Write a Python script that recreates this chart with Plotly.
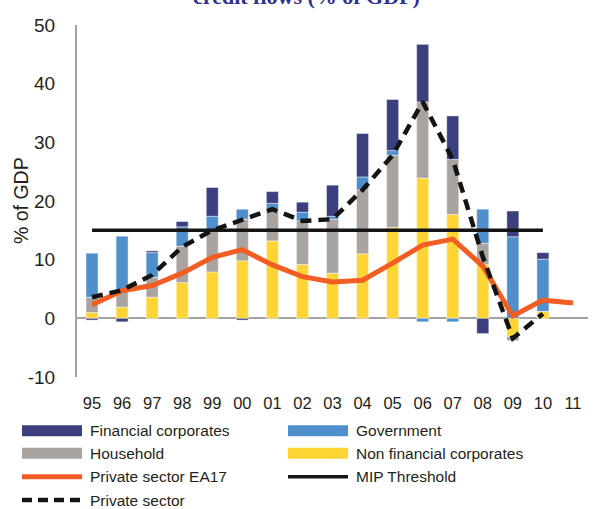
import plotly.graph_objects as go

years = ["95", "96", "97", "98", "99", "00", "01", "02", "03", "04",
         "05", "06", "07", "08", "09", "10", "11"]
non_financial = [1.0, 1.9, 3.6, 6.1, 7.9, 9.8, 13.2, 9.2, 7.7, 11.0,
                 15.5, 23.9, 17.7, 9.2, -3.1, 1.2, None]
household = [2.6, 2.9, 3.4, 6.2, 7.1, 7.1, 5.4, 7.4, 9.2, 10.9,
             12.3, 13.0, 9.4, 3.6, -0.7, 0.0, None]
government = [7.5, 9.2, 4.2, 3.3, 2.4, 1.7, 1.0, 1.5, 0.5, 2.2,
              0.8, -0.6, -0.6, 5.8, 13.9, 8.9, None]
financial = [-0.3, -0.6, 0.3, 0.9, 4.9, -0.3, 2.0, 1.7, 5.3, 7.4,
             8.7, 9.8, 7.4, -2.6, 4.4, 1.1, None]
private_ea17 = [2.3, 4.7, 5.6, 7.7, 10.4, 11.7, 9.1, 7.1, 6.2, 6.5,
                9.4, 12.5, 13.5, 8.9, 0.4, 3.1, 2.6]
mip_threshold = [15, 15, 15, 15, 15, 15, 15, 15, 15, 15,
                 15, 15, 15, 15, 15, 15, None]
private_sector = [3.6, 4.8, 7.4, 12.2, 15.0, 16.9, 18.6, 16.6, 16.9, 21.9,
                  27.8, 36.9, 27.1, 10.5, -3.4, 0.8, None]
y_tick_vals = [-10, 0, 10, 20, 30, 40, 50]
y_tick_text = ["-10", "0", "10", "20", "30", "40", "50"]

C_FIN = "#3b3f7d"
C_GOV = "#4e8fcc"
C_HH = "#aaa4a0"
C_NFC = "#ffd535"
C_EA = "#f15d22"
C_BLACK = "#141414"
TXT = "#231f20"
SANS = "Liberation Sans, Arial, sans-serif"

W, H = 594, 509
ML, MR, MT, MB = 77, 6, 25, 132
PW, PH = W - ML - MR, H - MT - MB

def px(x):
    return (x - ML) / PW

def py(y):
    return (H - MB - y) / PH

fig = go.Figure()
edge = dict(width=0.8, color="rgba(255,255,255,0.55)")
fig.add_trace(go.Bar(x=years, y=non_financial, name="Non financial corporates",
                     marker=dict(color=C_NFC, line=edge)))
fig.add_trace(go.Bar(x=years, y=household, name="Household",
                     marker=dict(color=C_HH, line=edge)))
fig.add_trace(go.Bar(x=years, y=government, name="Government",
                     marker=dict(color=C_GOV, line=edge)))
fig.add_trace(go.Bar(x=years, y=financial, name="Financial corporates",
                     marker=dict(color=C_FIN, line=edge)))
fig.add_trace(go.Scatter(x=years, y=mip_threshold, name="MIP Threshold", mode="lines",
                         line=dict(color=C_BLACK, width=3.5)))
fig.add_trace(go.Scatter(x=years, y=private_ea17, name="Private sector EA17", mode="lines",
                         line=dict(color=C_EA, width=5)))
fig.add_trace(go.Scatter(x=years, y=private_sector, name="Private sector", mode="lines",
                         line=dict(color=C_BLACK, width=4.5, dash="11px,7px")))

# manual legend
legend_items = [
    ("Financial corporates", "bar", C_FIN, 0, 430.7),
    ("Government", "bar", C_GOV, 1, 430.7),
    ("Household", "bar", C_HH, 0, 453.3),
    ("Non financial corporates", "bar", C_NFC, 1, 453.3),
    ("Private sector EA17", "line", C_EA, 0, 476.7),
    ("MIP Threshold", "line", C_BLACK, 1, 476.7),
    ("Private sector", "dash", C_BLACK, 0, 500.0),
]
col_x = [(22, 82, 88), (288, 348, 354)]
shapes = []
annotations = []
for label, kind, color, col, yc in legend_items:
    x0, x1, xt = col_x[col]
    if kind == "bar":
        shapes.append(dict(type="rect", xref="paper", yref="paper",
                           x0=px(x0), x1=px(x1), y0=py(yc + 5.5), y1=py(yc - 5.5),
                           fillcolor=color, line=dict(width=0)))
    else:
        width = 5 if color == C_EA else (3.5 if kind == "line" else 4.5)
        dash = "10px,6px" if kind == "dash" else "solid"
        shapes.append(dict(type="line", xref="paper", yref="paper",
                           x0=px(x0), x1=px(x1), y0=py(yc), y1=py(yc),
                           line=dict(color=color, width=width, dash=dash)))
    annotations.append(dict(text=label, xref="paper", yref="paper",
                            x=px(xt), y=py(yc), xanchor="left", yanchor="middle",
                            showarrow=False,
                            font=dict(family=SANS, size=15.5, color=TXT)))

annotations.append(dict(text="<b>credit flows (% of GDP)</b>", xref="paper", yref="paper",
                        x=px(306), y=py(-3), xanchor="center", yanchor="middle",
                        showarrow=False,
                        font=dict(family="Liberation Serif, Times New Roman, serif",
                                  size=22, color="#2e3192")))
annotations.append(dict(text="% of GDP", xref="paper", yref="paper",
                        x=px(21), y=py(201), xanchor="center", yanchor="middle",
                        textangle=-90, showarrow=False,
                        font=dict(family=SANS, size=19.5, color=TXT)))

fig.update_layout(
    width=W, height=H,
    margin=dict(l=ML, r=MR, t=MT, b=MB, autoexpand=False),
    paper_bgcolor="white", plot_bgcolor="white",
    barmode="relative", bargap=0.6,
    showlegend=False, hovermode=False,
    shapes=shapes, annotations=annotations,
    font=dict(family=SANS, color=TXT),
)
fig.update_xaxes(type="category", showline=False, showgrid=False, ticks="",
                 automargin=False,
                 tickfont=dict(family=SANS, size=16.5, color=TXT),
                 ticklabelstandoff=14)
fig.update_yaxes(range=[-10, 50], tickvals=y_tick_vals, ticktext=y_tick_text,
                 showgrid=False, ticks="", automargin=False,
                 showline=True, linecolor="#a3a3a3", linewidth=2,
                 zeroline=True, zerolinecolor="#a3a3a3", zerolinewidth=2,
                 tickfont=dict(size=19, color=TXT), ticklabelstandoff=16)

fig.write_html("out.html", config={"displayModeBar": False},
               post_script="document.body.style.margin='0';document.body.style.overflow='hidden';")
